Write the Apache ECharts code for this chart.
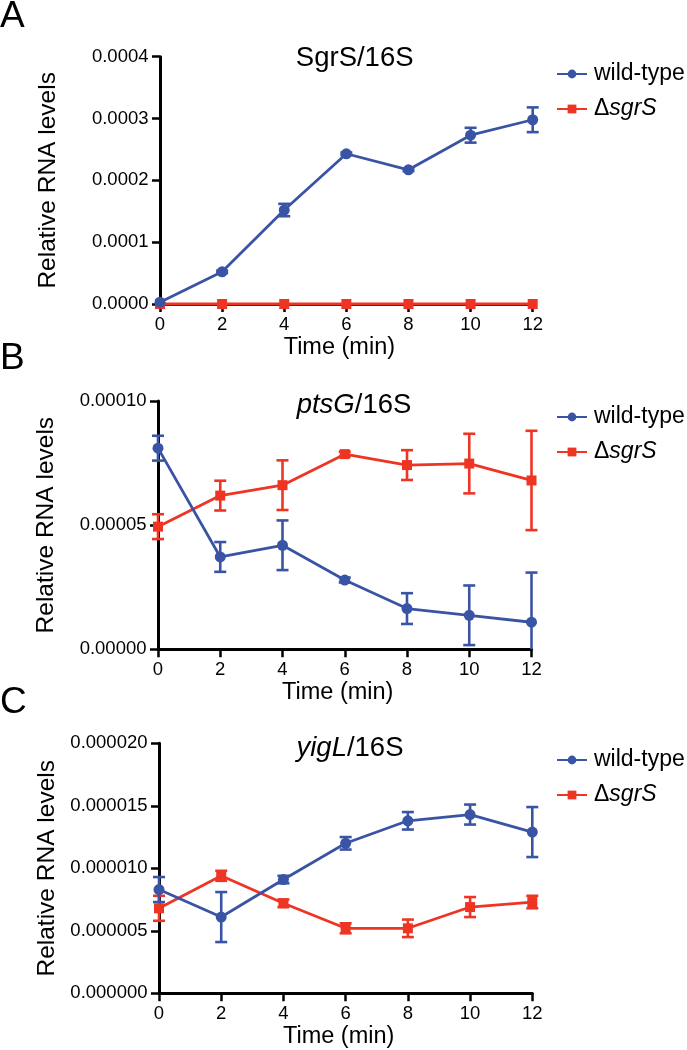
<!DOCTYPE html>
<html><head><meta charset="utf-8">
<script src="https://cdn.jsdelivr.net/npm/echarts@6/dist/echarts.min.js"></script>
<style>html,body{margin:0;padding:0;background:#fff}#c{width:687px;height:1050px}</style>
</head><body><div id="c"></div>
<script>
// ---- data ----
const times = [0, 2, 4, 6, 8, 10, 12];

const sgrsWildType = [0.000003, 0.000052, 0.000152, 0.000243, 0.000217, 0.000273, 0.000298];
const sgrsWildTypeErr = [0, 0.000002, 0.00001, 0.000002, 0.000002, 0.000012, 0.00002];
const sgrsMutant = [0, 0, 0, 0, 0, 0, 0];
const sgrsMutantErr = [0, 0, 0, 0, 0, 0, 0];

const ptsgWildType = [0.0000810, 0.0000372, 0.0000419, 0.0000279, 0.0000164, 0.0000137, 0.0000109];
const ptsgWildTypeErr = [0.000005, 0.000006, 0.00001, 0.000001, 0.0000062, 0.000012, 0.00002];
const ptsgMutant = [0.0000494, 0.0000619, 0.0000661, 0.0000786, 0.0000742, 0.0000748, 0.0000680];
const ptsgMutantErr = [0.000005, 0.000006, 0.00001, 0.000001, 0.000006, 0.000012, 0.00002];

const yiglWildType = [0.0000083, 0.0000061, 0.0000091, 0.0000120, 0.0000138, 0.0000143, 0.0000129];
const yiglWildTypeErr = [0.000001, 0.000002, 0.0000003, 0.0000005, 0.0000007, 0.0000008, 0.000002];
const yiglMutant = [0.0000068, 0.0000094, 0.0000072, 0.0000052, 0.0000052, 0.0000069, 0.0000073];
const yiglMutantErr = [0.000001, 0.0000004, 0.0000003, 0.0000004, 0.0000007, 0.0000008, 0.0000005];

const seriesNames = ['wild-type', 'ΔsgrS'];
const panelLetters = ['A', 'B', 'C'];
const panelTitles = ['{n|SgrS/16S}', '{i|ptsG}{n|/16S}', '{i|yigL}{n|/16S}'];
const yMax = [0.0004, 0.0001, 0.00002];
const yInterval = [0.0001, 0.00005, 0.000005];
const yDecimals = [4, 5, 6];
const xMin = 0, xMax = 12, xInterval = 2;

// ---- style ----
const FONT = 'Liberation Sans, Arial, Helvetica, sans-serif';
const BLUE = '#3a54a5';
const RED = '#ee3524';

const grids = [
  {left: 160, right: 154.3, top: 56.7, bottom: 746},
  {left: 158, right: 155.5, top: 401, bottom: 400.7},
  {left: 159, right: 154.7, top: 743.3, bottom: 56.7}
];
const titleTops = [44.5, 391, 734.3];
const titleCenters = [354.7, 354, 350];
const letterTops = [-1.3, 340.4, 684.7];
const legendTops = [62.5, 405.5, 748.5];

const panels = [
  [sgrsWildType, sgrsWildTypeErr, sgrsMutant, sgrsMutantErr],
  [ptsgWildType, ptsgWildTypeErr, ptsgMutant, ptsgMutantErr],
  [yiglWildType, yiglWildTypeErr, yiglMutant, yiglMutantErr]
];

function errorSeries(vals, errs, color, idx, ymin) {
  return {
    type: 'custom', xAxisIndex: idx, yAxisIndex: idx, silent: true, clip: false, z: 3,
    data: times.map((t, i) => [t, vals[i], errs[i]]),
    encode: {x: 0, y: 1},
    renderItem(params, api) {
      const x = api.value(0), v = api.value(1), e = api.value(2);
      if (!e) return null;
      const lo = Math.max(v - e, ymin);
      const pHi = api.coord([x, v + e]);
      const pLo = api.coord([x, lo]);
      const w = 6;
      const style = {stroke: color, lineWidth: 2.6};
      const children = [
        {type: 'line', shape: {x1: pHi[0], y1: pHi[1], x2: pLo[0], y2: pLo[1]}, style},
        {type: 'line', shape: {x1: pHi[0] - w, y1: pHi[1], x2: pHi[0] + w, y2: pHi[1]}, style}
      ];
      if (v - e >= ymin) {
        children.push({type: 'line', shape: {x1: pLo[0] - w, y1: pLo[1], x2: pLo[0] + w, y2: pLo[1]}, style});
      }
      return {type: 'group', children};
    }
  };
}

const titles = [], legends = [], xAxes = [], yAxes = [], series = [];
panels.forEach((p, k) => {
  titles.push({
    text: panelLetters[k], left: 0, top: letterTops[k], padding: 0,
    textStyle: {fontFamily: FONT, fontSize: 37, fontWeight: 'normal', color: '#000'}
  });
  titles.push({
    text: panelTitles[k], left: titleCenters[k], top: titleTops[k], padding: 0, textAlign: 'center',
    textStyle: {
      fontFamily: FONT, fontSize: 27.5, fontWeight: 'normal', color: '#000',
      rich: {
        n: {fontFamily: FONT, fontSize: 27.5, color: '#000'},
        i: {fontFamily: FONT, fontSize: 27.5, fontStyle: 'italic', color: '#000'}
      }
    }
  });
  legends.push({
    orient: 'vertical', left: 556, top: legendTops[k], padding: 0, itemGap: 12,
    itemWidth: 30, itemHeight: 11, selectedMode: false,
    data: seriesNames,
    formatter: name => name === 'ΔsgrS' ? '{n|Δ}{i|sgrS}' : '{n|' + name + '}',
    textStyle: {
      fontFamily: FONT, fontSize: 23, color: '#000', padding: [0, 0, 0, 2],
      rich: {
        n: {fontFamily: FONT, fontSize: 23, color: '#000'},
        i: {fontFamily: FONT, fontSize: 23, fontStyle: 'italic', color: '#000'}
      }
    }
  });
  xAxes.push({
    gridIndex: k, type: 'value', min: xMin, max: xMax, interval: xInterval,
    name: 'Time (min)', nameLocation: 'middle', nameGap: 30.5,
    nameTextStyle: {fontFamily: FONT, fontSize: 23.5, color: '#000', padding: [0, 14, 0, 0]},
    axisLine: {show: true, onZero: false, lineStyle: {color: '#000', width: 3}},
    axisTick: {show: true, length: 8, lineStyle: {color: '#000', width: 2.5}},
    axisLabel: {fontFamily: FONT, fontSize: 18.5, color: '#000', margin: 11.5},
    splitLine: {show: false}
  });
  yAxes.push({
    gridIndex: k, type: 'value', min: 0, max: yMax[k], interval: yInterval[k],
    name: 'Relative RNA levels', nameLocation: 'middle', nameGap: 99,
    nameTextStyle: {fontFamily: FONT, fontSize: 24.5, color: '#000'},
    axisLine: {show: true, lineStyle: {color: '#000', width: 3}},
    axisTick: {show: true, length: 8, lineStyle: {color: '#000', width: 2.5}},
    axisLabel: {fontFamily: FONT, fontSize: 18.5, color: '#000', margin: 11.5,
      formatter: v => v.toFixed(yDecimals[k])},
    splitLine: {show: false}
  });
  const [wt, wtErr, mu, muErr] = p;
  series.push(errorSeries(mu, muErr, RED, k, 0));
  series.push({
    name: 'ΔsgrS', type: 'line', xAxisIndex: k, yAxisIndex: k,
    data: times.map((t, i) => [t, mu[i]]),
    symbol: 'rect', symbolSize: 10, showAllSymbol: true, clip: false, z: 4,
    lineStyle: {color: RED, width: 2.8}, itemStyle: {color: RED}
  });
  series.push(errorSeries(wt, wtErr, BLUE, k, 0));
  series.push({
    name: 'wild-type', type: 'line', xAxisIndex: k, yAxisIndex: k,
    data: times.map((t, i) => [t, wt[i]]),
    symbol: 'circle', symbolSize: 11, showAllSymbol: true, clip: false, z: 5,
    lineStyle: {color: BLUE, width: 2.8}, itemStyle: {color: BLUE}
  });
});

const chart = echarts.init(document.getElementById('c'), null, {renderer: 'canvas'});
chart.setOption({
  animation: false,
  backgroundColor: '#fff',
  title: titles,
  legend: legends,
  grid: grids,
  xAxis: xAxes,
  yAxis: yAxes,
  series: series
});
</script>
</body></html>
